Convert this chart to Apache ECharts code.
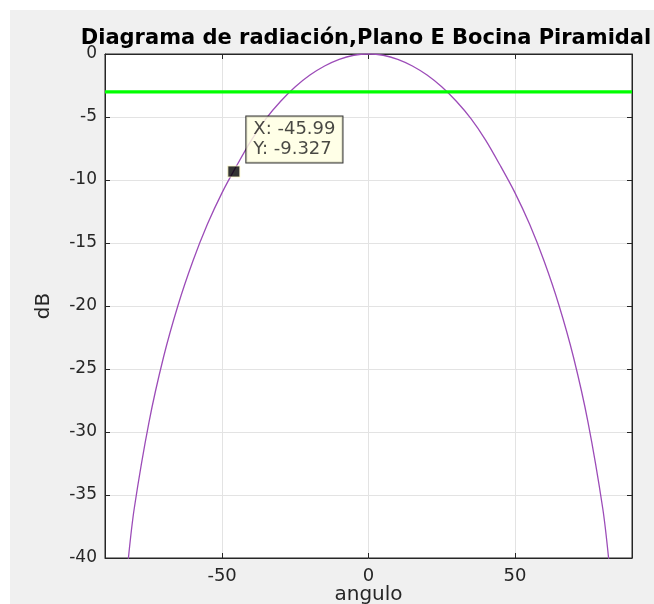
<!DOCTYPE html>
<html>
<head>
<meta charset="utf-8">
<title>Diagrama de radiación</title>
<script src="https://cdn.jsdelivr.net/npm/echarts@6/dist/echarts.min.js"></script>
<style>
  html, body { margin: 0; padding: 0; background: #ffffff; }
  #chart { position: absolute; left: 10px; top: 10px; width: 644px; height: 594px; background: #f0f0f0; }
</style>
</head>
<body>
<div id="chart"></div>
<script>
// E-plane pattern of the pyramidal horn (angle in degrees, level in dB)
const angles = [-85, -82, -80, -75, -70, -65, -60, -55, -50, -45, -40, -35, -30, -25, -20, -15, -10, -5, 0,
                5, 10, 15, 20, 25, 30, 35, 40, 45, 50, 55, 60, 65, 70, 75, 80, 82, 85];
const levelsDb = [-47.5, -40.0, -36.05, -29.25, -24.05, -19.9, -16.45, -13.5, -11.0, -8.85, -6.83, -5.13, -3.75, -2.6, -1.67, -0.95, -0.42, -0.1, 0,
                  -0.1, -0.42, -0.95, -1.67, -2.6, -3.75, -5.13, -6.83, -8.85, -11.0, -13.5, -16.45, -19.9, -24.05, -29.25, -36.05, -40.0, -47.5];

// half-power reference level
const halfPowerDb = -3;
const angleRange = [-90, 90];

// data cursor point
const cursorPoint = [-45.99, -9.327];

// axis ticks
const xTicks = [-50, 0, 50];
const yMin = -40, yMax = 0, yStep = 5;

const FONT = 'DejaVu Sans, Liberation Sans, Arial, sans-serif';
const AXIS_COLOR = '#262626';
const GRID_COLOR = '#e3e3e3';

const pattern = angles.map((a, i) => [a, levelsDb[i]]);
const halfPower = angleRange.map(a => [a, halfPowerDb]);

const chart = echarts.init(document.getElementById('chart'), null, { renderer: 'canvas' });

const xBase = {
  type: 'value', min: angleRange[0], max: angleRange[1],
  axisLine: { show: true, onZero: false, lineStyle: { color: AXIS_COLOR, width: 1 } },
  axisTick: { show: true, inside: true, length: 5, customValues: xTicks, lineStyle: { color: AXIS_COLOR } },
  minorTick: { show: false }
};
const yBase = {
  type: 'value', min: yMin, max: yMax, interval: yStep,
  axisLine: { show: true, onZero: false, lineStyle: { color: AXIS_COLOR, width: 1 } },
  axisTick: { show: true, inside: true, length: 5, lineStyle: { color: AXIS_COLOR } }
};

chart.setOption({
  animation: false,
  title: {
    text: 'Diagrama de radiación,Plano E Bocina Piramidal',
    left: 356, top: 18, padding: 0, textAlign: 'center',
    textStyle: { fontFamily: FONT, fontSize: 21, fontWeight: 'bold', color: '#000' }
  },
  grid: {
    left: 95, top: 44, width: 527, height: 504,
    outerBoundsMode: 'none', containLabel: false,
    show: true, backgroundColor: '#ffffff', borderColor: AXIS_COLOR, borderWidth: 1
  },
  xAxis: [
    Object.assign({}, xBase, {
      position: 'bottom',
      name: 'angulo', nameLocation: 'middle', nameGap: 27, nameMoveOverlap: false,
      nameTextStyle: { fontFamily: FONT, fontSize: 20, color: AXIS_COLOR },
      axisLabel: { show: true, customValues: xTicks, margin: 9, fontFamily: FONT, fontSize: 18, color: AXIS_COLOR },
      splitLine: { show: true, lineStyle: { color: GRID_COLOR, width: 1 } }
    }),
    Object.assign({}, xBase, {
      position: 'top',
      axisLabel: { show: false },
      splitLine: { show: false }
    })
  ],
  yAxis: [
    Object.assign({}, yBase, {
      position: 'left',
      name: 'dB', nameLocation: 'middle', nameGap: 51, nameRotate: 90, nameMoveOverlap: false,
      nameTextStyle: { fontFamily: FONT, fontSize: 20, color: AXIS_COLOR },
      axisLabel: { show: true, margin: 8, fontFamily: FONT, fontSize: 17, color: AXIS_COLOR },
      splitLine: { show: true, lineStyle: { color: GRID_COLOR, width: 1 } }
    }),
    Object.assign({}, yBase, {
      position: 'right',
      axisLabel: { show: false },
      splitLine: { show: false }
    })
  ],
  series: [
    {
      name: 'patron', type: 'line', data: pattern,
      xAxisIndex: 0, yAxisIndex: 0,
      smooth: 0.3, showSymbol: false, clip: true,
      lineStyle: { color: '#9c4cb8', width: 1.3 },
      z: 3
    },
    {
      name: '-3 dB', type: 'line', data: halfPower,
      xAxisIndex: 0, yAxisIndex: 0,
      showSymbol: false, clip: true,
      lineStyle: { color: '#00ff00', width: 3.2 },
      z: 4
    },
    {
      name: 'cursor', type: 'scatter', data: [cursorPoint],
      xAxisIndex: 0, yAxisIndex: 0,
      symbol: 'rect', symbolSize: [12, 11],
      itemStyle: { color: '#000000', borderColor: '#fffbc8', borderWidth: 1 },
      label: {
        show: true,
        position: [19, -49],
        formatter: p => 'X: ' + p.value[0] + '\nY: ' + p.value[1],
        fontFamily: FONT, fontSize: 18, lineHeight: 20, color: '#1a1a1a',
        backgroundColor: '#ffffe1', borderColor: '#000000', borderWidth: 1,
        padding: [3, 7, 3, 7], align: 'left', verticalAlign: 'top'
      },
      z: 6
    }
  ]
});
</script>
</body>
</html>
